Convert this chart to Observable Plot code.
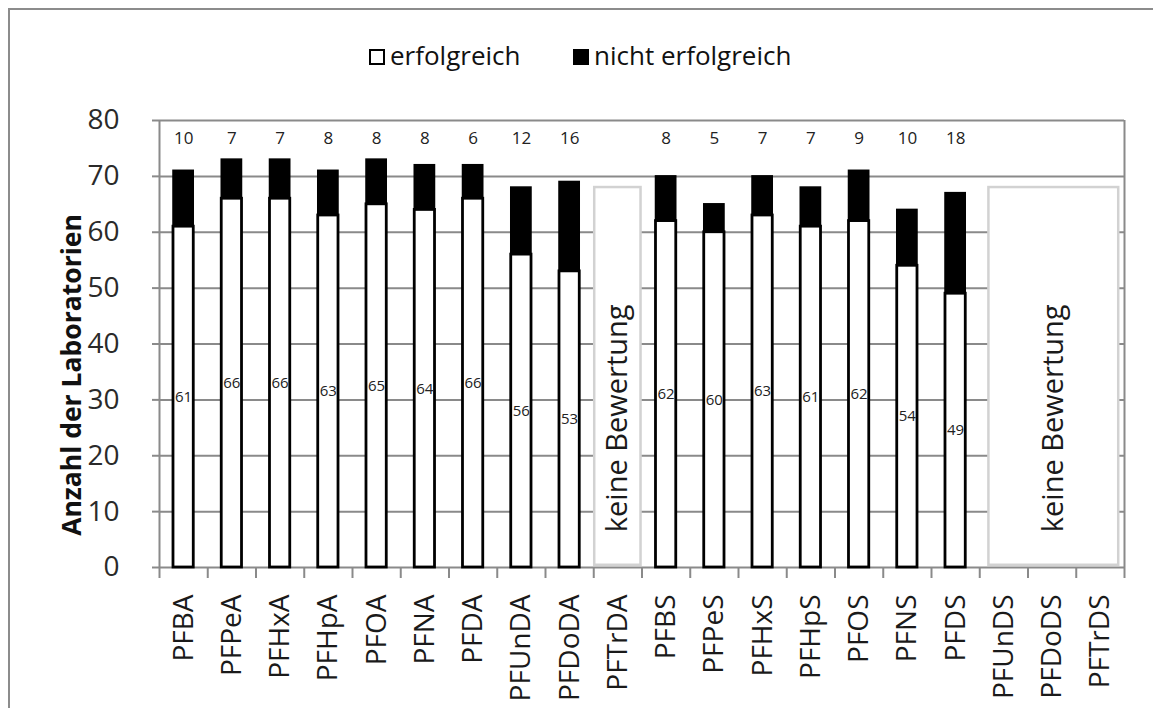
<!DOCTYPE html>
<html>
<head>
<meta charset="utf-8">
<script src="https://cdn.jsdelivr.net/npm/d3@7"></script>
<script src="https://cdn.jsdelivr.net/npm/@observablehq/plot@0.6"></script>
<style>
  body { margin: 0; background: #fff; font-family: "Open Sans", sans-serif; }
  #wrap { position: relative; width: 1153px; height: 708px; overflow: hidden; background: #fff; }
  #frame { position: absolute; left: 8px; top: 8px; width: 1300px; height: 900px;
           border-top: 2.5px solid #8c8c8c; border-left: 2.5px solid #8c8c8c; }
  #legend { position: absolute; left: 0; top: 0; width: 1153px; height: 100px; }
  .li { position: absolute; top: 39px; display: flex; align-items: center; font-size: 26px; color: #111; line-height: 32px; }
  .sw { width: 12px; height: 12px; border: 2px solid #000; margin-right: 5px; margin-top: 3px; }
  #chart { position: absolute; left: 0; top: 100px; }
</style>
</head>
<body>
<div id="wrap">
  <div id="frame"></div>
  <div id="legend"></div>
  <div id="chart"></div>
</div>
<script>
const categories = ["PFBA","PFPeA","PFHxA","PFHpA","PFOA","PFNA","PFDA","PFUnDA","PFDoDA","PFTrDA",
                    "PFBS","PFPeS","PFHxS","PFHpS","PFOS","PFNS","PFDS","PFUnDS","PFDoDS","PFTrDS"];
const erfolgreich      = [61,66,66,63,65,64,66,56,53,null,62,60,63,61,62,54,49,null,null,null];
const nichtErfolgreich = [10, 7, 7, 8, 8, 8, 6,12,16,null, 8, 5, 7, 7, 9,10,18,null,null,null];
const yTicks = [0,10,20,30,40,50,60,70,80];
const seriesNames = ["erfolgreich", "nicht erfolgreich"];
const seriesColors = ["#ffffff", "#000000"];
const keineBewertung = [["PFTrDA","PFTrDA"], ["PFUnDS","PFTrDS"]];
const noRatingText = "keine Bewertung";
const yTitle = "Anzahl der Laboratorien";

// legend
const legend = document.getElementById("legend");
const legendLeft = [369, 573];
seriesNames.forEach((name, k) => {
  const item = document.createElement("div");
  item.className = "li";
  item.style.left = legendLeft[k] + "px";
  const sw = document.createElement("span");
  sw.className = "sw";
  sw.style.background = seriesColors[k];
  item.appendChild(sw);
  item.appendChild(document.createTextNode(name));
  legend.appendChild(item);
});

const rows = categories.map((c, i) => ({c, i, ok: erfolgreich[i], fail: nichtErfolgreich[i]}))
  .filter(d => d.ok != null);
const boxes = keineBewertung.map(([a, b]) => {
  const i1 = categories.indexOf(a), i2 = categories.indexOf(b);
  const single = i1 === i2;
  return {x1: i1 + (single ? 0.02 : 0.19), x2: i2 + (single ? 0.98 : 0.88)};
}).map(d => ({...d, xm: (d.x1 + d.x2) / 2}));

const grid = "#8a8a8a";
const chart = Plot.plot({
  width: 1153,
  height: 608,
  marginLeft: 159,
  marginRight: 29,
  marginTop: 20,
  marginBottom: 141,
  style: {fontFamily: "Open Sans", background: "transparent", overflow: "visible"},
  x: {type: "linear", domain: [0, categories.length]},
  y: {domain: [0, 80]},
  marks: [
    Plot.ruleY(yTicks, {stroke: grid, strokeWidth: 2}),
    Plot.ruleX([0, categories.length], {stroke: grid, strokeWidth: 2}),
    Plot.axisY({ticks: yTicks, tickSize: 7, tickPadding: 33, stroke: grid, strokeWidth: 2,
                fontSize: 28, fill: "#2a2a2a", label: null}),
    Plot.axisX({ticks: d3.range(categories.length + 1), tickSize: 11, stroke: grid, strokeWidth: 2,
                tickFormat: () => "", label: null}),
    Plot.axisX({ticks: d3.range(categories.length).map(i => i + 0.5), tickSize: 0, tickPadding: 27,
                tickRotate: -90, tickFormat: v => categories[Math.round(v - 0.5)],
                fontSize: 28, fill: "#1a1a1a", label: null}),
    Plot.text([yTitle], {frameAnchor: "left", textAnchor: "middle", rotate: -90, dx: -87, dy: 31,
                fontSize: 26.5, fontWeight: "bold", fill: "#111", text: d => d}),
    Plot.rect(boxes, {x1: "x1", x2: "x2", y1: 0.4, y2: 68, fill: "white", stroke: "#d2d2d2", strokeWidth: 2.5}),
    Plot.text(boxes, {x: "xm", y: 26.7, text: () => noRatingText, rotate: -90, fontSize: 29, fill: "#1a1a1a"}),
    Plot.rect(rows, {x1: d => d.i + 0.29, x2: d => d.i + 0.71, y1: 0, y2: "ok",
                     fill: seriesColors[0], stroke: "#000", strokeWidth: 2.8}),
    Plot.rect(rows, {x1: d => d.i + 0.29, x2: d => d.i + 0.71, y1: "ok", y2: d => d.ok + d.fail,
                     fill: seriesColors[1], stroke: "#000", strokeWidth: 1.5}),
    Plot.text(rows, {x: d => d.i + 0.5, y: d => d.ok / 2, text: "ok", fontSize: 15, fill: "#222"}),
    Plot.text(rows, {x: d => d.i + 0.5, y: 76.7, text: "fail", fontSize: 17, fill: "#222"})
  ]
});
document.getElementById("chart").appendChild(chart);
</script>
</body>
</html>
